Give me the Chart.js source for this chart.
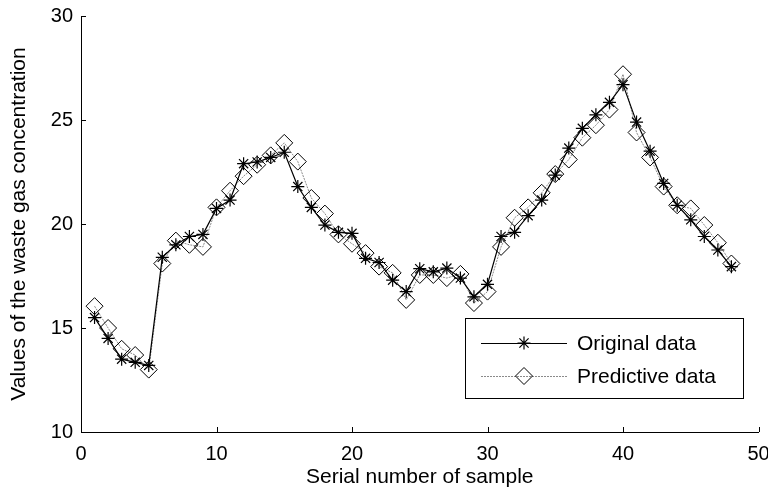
<!DOCTYPE html>
<html lang="en">
<head>
  <meta charset="UTF-8">
  <title>Waste gas concentration</title>
  <script src="https://cdn.jsdelivr.net/npm/chart.js"></script>
  <style>
    body { margin: 0; background: #fff; }
  </style>
</head>
<body>
<div style="width:768px; height:497px;">
  <canvas id="gasChart" width="768" height="497"></canvas>
</div>

<script>
  // sample numbers and the two series
  const samples = [1, 2, 3, 4, 5, 6, 7, 8, 9, 10, 11, 12, 13, 14, 15, 16, 17, 18, 19, 20, 21, 22, 23, 24,
                   25, 26, 27, 28, 29, 30, 31, 32, 33, 34, 35, 36, 37, 38, 39, 40, 41, 42, 43, 44, 45, 46, 47, 48];
  const originalData = [15.5, 14.5, 13.5, 13.35, 13.2, 18.4, 19.0, 19.4, 19.5, 20.75, 21.15, 22.9,
                        22.98, 23.2, 23.45, 21.8, 20.8, 19.95, 19.6, 19.55, 18.35, 18.15, 17.3, 16.75,
                        17.85, 17.7, 17.88, 17.4, 16.5, 17.1, 19.4, 19.6, 20.4, 21.15, 22.35, 23.65,
                        24.6, 25.25, 25.85, 26.7, 24.9, 23.5, 21.95, 20.9, 20.2, 19.4, 18.75, 17.95];
  const predictiveData = [16.05, 15.0, 14.0, 13.7, 13.0, 18.1, 19.2, 19.0, 18.9, 20.8, 21.6, 22.3,
                          22.85, 23.3, 23.9, 23.0, 21.25, 20.5, 19.5, 19.05, 18.6, 17.95, 17.65, 16.35,
                          17.55, 17.55, 17.4, 17.6, 16.2, 16.75, 18.9, 20.3, 20.8, 21.5, 22.4, 23.1,
                          24.15, 24.75, 25.5, 27.2, 24.4, 23.2, 21.8, 20.9, 20.75, 19.95, 19.1, 18.1];
  const xTicks = [0, 10, 20, 30, 40, 50];
  const yTicks = [10, 15, 20, 25, 30];

  const FONT = 'Arial, "Liberation Sans", sans-serif';

  // small inward tick marks, MATLAB style
  const innerTicks = {
    id: 'innerTicks',
    afterDraw(chart) {
      const { ctx, scales: { x, y } } = chart;
      ctx.save();
      ctx.strokeStyle = '#000';
      ctx.lineWidth = 1;
      ctx.beginPath();
      xTicks.forEach(v => {
        const px = Math.round(x.getPixelForValue(v)) + 0.5;
        ctx.moveTo(px, y.bottom);
        ctx.lineTo(px, y.bottom - 5);
      });
      yTicks.forEach(v => {
        const py = Math.round(y.getPixelForValue(v)) + 0.5;
        ctx.moveTo(x.left, py);
        ctx.lineTo(x.left + 5, py);
      });
      ctx.stroke();
      ctx.restore();
    }
  };

  // legend box inside the plot, lower right
  const boxLegend = {
    id: 'boxLegend',
    afterDraw(chart) {
      const ctx = chart.ctx;
      const bx = 465, by = 318, bw = 278, bh = 80;
      ctx.save();
      ctx.fillStyle = '#fff';
      ctx.fillRect(bx, by, bw, bh);
      ctx.strokeStyle = '#000';
      ctx.lineWidth = 1;
      ctx.strokeRect(bx + 0.5, by + 0.5, bw, bh);
      const rows = [
        { ds: chart.data.datasets[0], y: 343 },
        { ds: chart.data.datasets[1], y: 376 }
      ];
      rows.forEach(r => {
        ctx.beginPath();
        ctx.strokeStyle = r.ds.borderColor;
        ctx.lineWidth = r.ds.borderWidth;
        ctx.setLineDash(r.ds.borderDash || []);
        ctx.moveTo(481, r.y + 0.5);
        ctx.lineTo(567, r.y + 0.5);
        ctx.stroke();
        ctx.setLineDash([]);
        ctx.strokeStyle = r.ds.pointBorderColor;
        ctx.fillStyle = r.ds.pointBackgroundColor;
        ctx.lineWidth = r.ds.pointBorderWidth;
        Chart.helpers.drawPoint(ctx, { pointStyle: r.ds.pointStyle, radius: r.ds.pointRadius, borderWidth: r.ds.pointBorderWidth }, 524, r.y);
        ctx.fillStyle = '#000';
        ctx.font = '21px ' + FONT;
        ctx.textBaseline = 'middle';
        ctx.fillText(r.ds.label, 577, r.y + 1);
      });
      ctx.restore();
    }
  };

  const ctx = document.getElementById('gasChart').getContext('2d');
  new Chart(ctx, {
    type: 'line',
    data: {
      datasets: [{
        label: 'Original data',
        data: samples.map((s, i) => ({ x: s, y: originalData[i] })),
        borderColor: '#000',
        borderWidth: 1.2,
        pointStyle: 'star',
        pointRadius: 6.5,
        pointBorderColor: '#000',
        pointBackgroundColor: '#000',
        pointBorderWidth: 1.2,
        tension: 0
      }, {
        label: 'Predictive data',
        data: samples.map((s, i) => ({ x: s, y: predictiveData[i] })),
        borderColor: '#8a8a8a',
        borderWidth: 1,
        borderDash: [2, 1],
        pointStyle: 'rectRot',
        pointRadius: 8.5,
        pointBorderColor: '#000',
        pointBackgroundColor: 'rgba(255,255,255,0)',
        pointBorderWidth: 1,
        tension: 0
      }]
    },
    options: {
      responsive: false,
      animation: false,
      layout: { padding: { top: 16, right: 8, left: 0, bottom: 0 } },
      plugins: { legend: { display: false }, tooltip: { enabled: false } },
      scales: {
        x: {
          type: 'linear',
          min: 0, max: 50,
          afterFit: s => { s.height = 65; s.paddingLeft = 0; s.paddingRight = 0; },
          afterBuildTicks: s => { s.ticks = xTicks.map(v => ({ value: v })); },
          grid: { display: false, drawTicks: false },
          border: { display: true, color: '#000', width: 1 },
          ticks: { color: '#000', padding: 10, font: { family: FONT, size: 20 } },
          title: { display: true, text: 'Serial number of sample', color: '#000',
                   font: { family: FONT, size: 21 }, padding: { top: 0, bottom: 7 } }
        },
        y: {
          min: 10, max: 30,
          afterFit: s => { s.width = 81; s.paddingTop = 0; s.paddingBottom = 0; },
          afterBuildTicks: s => { s.ticks = yTicks.map(v => ({ value: v })); },
          grid: { display: false, drawTicks: false },
          border: { display: true, color: '#000', width: 1 },
          ticks: { color: '#000', padding: 8, font: { family: FONT, size: 20 } },
          title: { display: true, text: 'Values of the waste gas concentration', color: '#000',
                   font: { family: FONT, size: 21 }, padding: { top: 7, bottom: 0 } }
        }
      }
    },
    plugins: [innerTicks, boxLegend]
  });
</script>
</body>
</html>
